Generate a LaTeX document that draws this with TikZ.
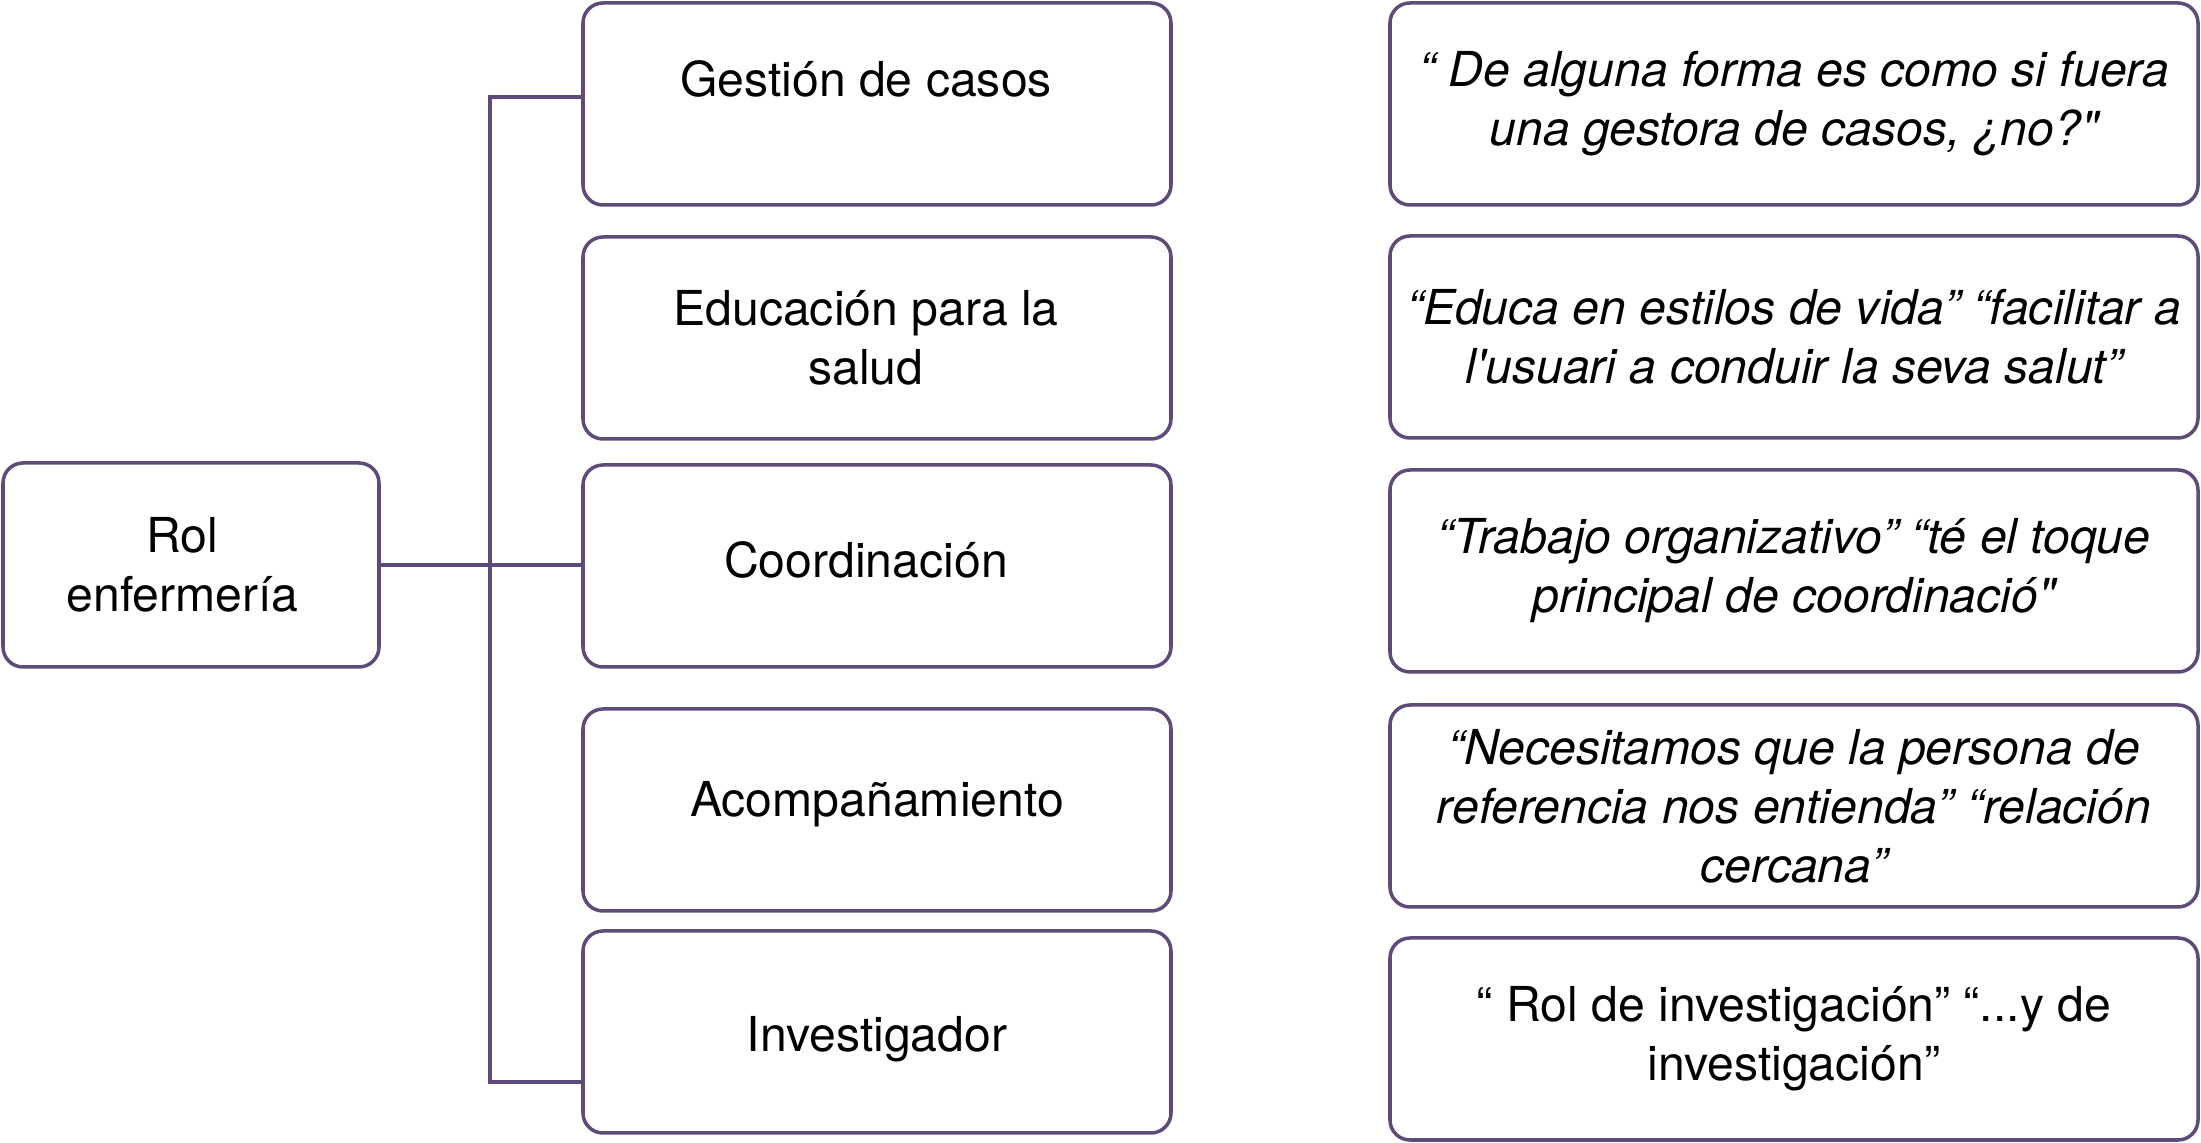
\documentclass[tikz,border=0pt]{standalone}
\usepackage{fontspec}
\newfontfamily\heros{TeX Gyre Heros}
\usepackage{tikz}
\usetikzlibrary{positioning}
\definecolor{boxcol}{RGB}{95,75,122}
\tikzset{
  rolbox/.style={draw=boxcol, line width=1pt, rounded corners=2mm,
    align=center, inner sep=0pt,
    font=\heros\fontsize{13.7}{16.8}\selectfont},
  tipobox/.style={rolbox, minimum width=5.88cm, minimum height=2.02cm},
  citabox/.style={rolbox, minimum width=8.08cm, minimum height=2.02cm,
    font=\heros\itshape\fontsize{13.7}{16.8}\selectfont},
  rama/.style={draw=boxcol, line width=1pt}
}

\begin{document}
\begin{tikzpicture}

\useasboundingbox (0,0) rectangle (22.01,11.43);

% ---------------- Rol ----------------
\node[rolbox, minimum width=3.76cm, minimum height=2.04cm] (rol) at (1.91,5.78)
  {Rol\hspace*{0.17cm}\\enfermería\hspace*{0.17cm}};

% ---------------- Funciones ----------------
\node[tipobox] (gestion) at (8.77,10.39)
  {Gestión de casos\hspace*{0.22cm}\\[-0.08cm]\mbox{}};
\node[tipobox] (educacion) at (8.77,8.05)
  {Educación para la\hspace*{0.22cm}\\salud\hspace*{0.22cm}};
\node[tipobox] (coordinacion) at (8.77,5.77)
  {\raisebox{0.06cm}[\height][\depth]{Coordinación}\hspace*{0.22cm}};
\node[tipobox] (acompanamiento) at (8.77,3.33)
  {\raisebox{0.06cm}[\height][\depth]{Acompañamiento}};
\node[tipobox] (investigador) at (8.77,1.11)
  {\raisebox{-0.07cm}[\height][\depth]{Investigador}};

% ---------------- Citas ----------------
\node[citabox] (cita1) at (17.94,10.39)
  {“ De alguna forma es como si fuera\\una gestora de casos, ¿no?"};
\node[citabox] (cita2) at (17.94,8.06)
  {“Educa en estilos de vida” “facilitar a\\l'usuari a conduir la seva salut”};
\node[citabox] (cita3) at (17.94,5.72)
  {“Trabajo organizativo” “té el toque\\principal de coordinació"};
\node[citabox] (cita4) at (17.94,3.37)
  {“Necesitamos que la persona de\\referencia nos entienda” “relación\\cercana”};
\node[citabox, font=\heros\fontsize{13.7}{16.8}\selectfont] (cita5) at (17.94,1.04)
  {“ Rol de investigación” “...y de\\investigación”};

% ---------------- Conectores ----------------
\coordinate (bustop) at (4.90,10.46);
\coordinate (busbot) at (4.90,0.61);
\draw[rama] (rol.east) -- (coordinacion.west |- rol.east);
\draw[rama] (gestion.west |- bustop) -- (bustop) -- (busbot)
  -- (investigador.west |- busbot);

\end{tikzpicture}
\end{document}
